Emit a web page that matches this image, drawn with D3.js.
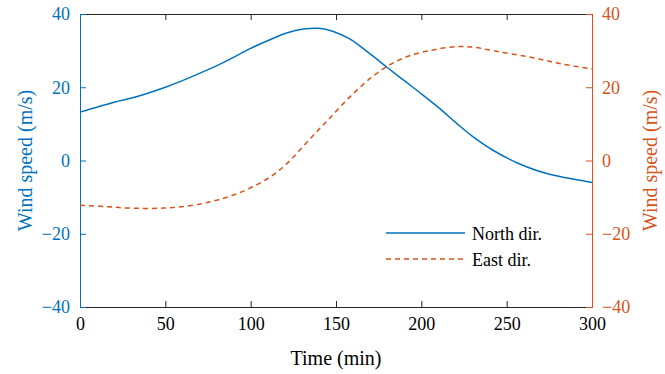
<!DOCTYPE html>
<html>
<head>
<meta charset="utf-8">
<script src="https://cdn.jsdelivr.net/npm/d3@7"></script>
<style>
  body { margin: 0; background: #fff; }
</style>
</head>
<body>
<div id="chart"></div>
<script>
// values
var northTime = [0, 20, 33, 50, 60, 76, 88, 100, 113, 121, 131, 140, 148, 158, 170, 180, 190, 200, 211, 221, 230, 242, 256, 273, 300]
var northSpeed = [13.2, 15.9, 17.4, 20.0, 21.8, 25.0, 27.7, 30.6, 33.3, 34.8, 35.9, 36.1, 35.3, 33.2, 29.1, 25.4, 21.8, 18.2, 14.1, 10.0, 6.6, 2.8, -0.6, -3.5, -6.0]
var eastTime = [0, 16, 29, 49, 65, 78, 90, 102, 113, 122, 131, 140, 147, 158, 170, 181, 193, 207, 221, 231, 244, 264, 283, 300]
var eastSpeed = [-12.2, -12.6, -13.0, -13.0, -12.3, -11.1, -9.4, -7.0, -4.0, -0.5, 4.0, 8.5, 11.9, 17.3, 22.4, 26.0, 28.6, 30.2, 31.1, 30.9, 29.8, 28.2, 26.3, 25.0]
var xTicks = [0, 50, 100, 150, 200, 250, 300]
var yTicks = [-40, -20, 0, 20, 40]
var seriesNames = ["North dir.", "East dir."]

var width = 665,
    height = 374,
    margin = {top: 14, right: 73, bottom: 67, left: 80}

var blue = "#0072BD",
    orange = "#D95319",
    axisGray = "#262626",
    serif = "'Liberation Serif', 'Times New Roman', serif"

var svg = d3.select("#chart")
  .append("svg")
  .attr("width", width)
  .attr("height", height)
  .style("font-family", serif)

var x = d3.scaleLinear().domain([0, 300]).range([margin.left, width - margin.right])
var yLeft = d3.scaleLinear().domain([-40, 40]).range([height - margin.bottom, margin.top])
var yRight = d3.scaleLinear().domain([-40, 40]).range([height - margin.bottom, margin.top])

// bottom axis, ticks pointing in
var xAxis = svg.append("g")
  .attr("transform", "translate(0," + (height - margin.bottom) + ")")
  .call(d3.axisBottom(x).tickValues(xTicks).tickSizeInner(-6).tickSizeOuter(0).tickPadding(10))
xAxis.attr("font-family", serif)
xAxis.select(".domain").attr("stroke", axisGray)
xAxis.selectAll(".tick line").attr("stroke", axisGray)
xAxis.selectAll("text").attr("fill", "#000").style("font-size", "18px")

// top border with ticks
var topAxis = svg.append("g")
  .attr("transform", "translate(0," + margin.top + ")")
  .call(d3.axisTop(x).tickValues(xTicks).tickSizeInner(-6).tickSizeOuter(0).tickFormat(""))
topAxis.select(".domain").attr("stroke", axisGray)
topAxis.selectAll(".tick line").attr("stroke", axisGray)

// left axis
var leftAxis = svg.append("g")
  .attr("transform", "translate(" + margin.left + ",0)")
  .call(d3.axisLeft(yLeft).tickValues(yTicks).tickSizeInner(-6).tickSizeOuter(0).tickPadding(10))
leftAxis.attr("font-family", serif)
leftAxis.select(".domain").attr("stroke", blue)
leftAxis.selectAll(".tick line").attr("stroke", blue)
leftAxis.selectAll("text").attr("fill", blue).style("font-size", "18px")

// right axis
var rightAxis = svg.append("g")
  .attr("transform", "translate(" + (width - margin.right) + ",0)")
  .call(d3.axisRight(yRight).tickValues(yTicks).tickSizeInner(-6).tickSizeOuter(0).tickPadding(10))
rightAxis.attr("font-family", serif)
rightAxis.select(".domain").attr("stroke", orange)
rightAxis.selectAll(".tick line").attr("stroke", orange)
rightAxis.selectAll("text").attr("fill", orange).style("font-size", "18px")

// lines
var northLine = d3.line()
  .x(function(d, i) { return x(northTime[i]) })
  .y(function(d) { return yLeft(d) })
  .curve(d3.curveCatmullRom.alpha(0.5))

var eastLine = d3.line()
  .x(function(d, i) { return x(eastTime[i]) })
  .y(function(d) { return yRight(d) })
  .curve(d3.curveCatmullRom.alpha(0.5))

svg.append("path")
  .attr("d", northLine(northSpeed))
  .attr("fill", "none")
  .attr("stroke", blue)
  .attr("stroke-width", 1.5)

svg.append("path")
  .attr("d", eastLine(eastSpeed))
  .attr("fill", "none")
  .attr("stroke", orange)
  .attr("stroke-width", 1.5)
  .attr("stroke-dasharray", "5,4")

// axis titles
svg.append("text")
  .attr("transform", "translate(32," + yLeft(0) + ") rotate(-90)")
  .attr("text-anchor", "middle")
  .attr("fill", blue)
  .style("font-size", "20px")
  .text("Wind speed (m/s)")

svg.append("text")
  .attr("transform", "translate(657," + yRight(0) + ") rotate(-90)")
  .attr("text-anchor", "middle")
  .attr("fill", orange)
  .style("font-size", "20px")
  .text("Wind speed (m/s)")

svg.append("text")
  .attr("x", x(150))
  .attr("y", 365)
  .attr("text-anchor", "middle")
  .attr("fill", "#000")
  .style("font-size", "20px")
  .text("Time (min)")

// legend
var legend = svg.append("g")
var legendRows = [
  {name: seriesNames[0], color: blue, dash: null, y: 233},
  {name: seriesNames[1], color: orange, dash: "5,4", y: 259}
]
legendRows.forEach(function(r) {
  legend.append("line")
    .attr("x1", 386).attr("x2", 465)
    .attr("y1", r.y).attr("y2", r.y)
    .attr("stroke", r.color)
    .attr("stroke-width", 1.5)
    .attr("stroke-dasharray", r.dash)
  legend.append("text")
    .attr("x", 472)
    .attr("y", r.y + 7)
    .attr("fill", "#000")
    .style("font-size", "18px")
    .text(r.name)
})
</script>
</body>
</html>
